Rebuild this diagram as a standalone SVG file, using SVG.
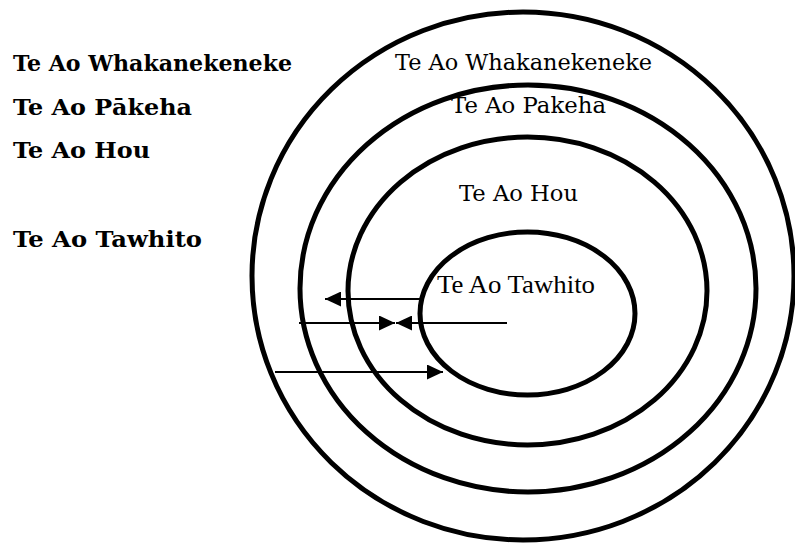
<svg xmlns="http://www.w3.org/2000/svg" width="795" height="543" viewBox="0 0 795 543">
<defs>
<style>
.ring{fill:none;stroke:#000;stroke-width:5}
.conn{stroke:#000;stroke-width:2;fill:none}
.side{font-family:"DejaVu Serif",serif;font-weight:bold;font-size:21.5px;fill:#000}
.lbl{font-family:"DejaVu Serif",serif;font-size:22px;fill:#000}
.lbl2{font-family:"Liberation Serif","Times New Roman",serif;font-size:26px;fill:#000}
</style>
<marker id="ah" markerUnits="userSpaceOnUse" markerWidth="16" markerHeight="15" refX="16" refY="7.5" orient="auto">
<path d="M0,0 L16,7.5 L0,15 z" fill="#000"/>
</marker>
</defs>
<rect width="795" height="543" fill="#fff"/>
<g id="legend">
<text class="side" x="13" y="71" textLength="279" lengthAdjust="spacingAndGlyphs">Te Ao Whakanekeneke</text>
<text class="side" x="13" y="115" textLength="179" lengthAdjust="spacingAndGlyphs">Te Ao Pākeha</text>
<text class="side" x="13" y="158" textLength="137" lengthAdjust="spacingAndGlyphs">Te Ao Hou</text>
<text class="side" x="13" y="247" textLength="189" lengthAdjust="spacingAndGlyphs">Te Ao Tawhito</text>
</g>
<g id="ring-whakanekeneke">
<ellipse class="ring" cx="523" cy="276" rx="271" ry="264"/>
<text class="lbl" x="395" y="70" textLength="257" lengthAdjust="spacingAndGlyphs">Te Ao Whakanekeneke</text>
</g>
<g id="ring-pakeha">
<ellipse class="ring" cx="528" cy="288.5" rx="228" ry="203.5"/>
<text class="lbl" x="451" y="113" textLength="155" lengthAdjust="spacingAndGlyphs">Te Ao Pakeha</text>
</g>
<g id="ring-hou">
<ellipse class="ring" cx="527.5" cy="291" rx="179.5" ry="154"/>
<text class="lbl" x="459" y="201" textLength="119" lengthAdjust="spacingAndGlyphs">Te Ao Hou</text>
</g>
<g id="ring-tawhito">
<ellipse class="ring" cx="527.5" cy="313.5" rx="107.5" ry="81.5"/>
<text class="lbl2" x="437" y="293" textLength="158" lengthAdjust="spacingAndGlyphs">Te Ao Tawhito</text>
</g>
<g id="connectors">
<line class="conn" x1="420" y1="299" x2="325" y2="299" marker-end="url(#ah)"/>
<line class="conn" x1="299" y1="323" x2="395" y2="323" marker-end="url(#ah)"/>
<line class="conn" x1="507" y1="323" x2="396" y2="323" marker-end="url(#ah)"/>
<line class="conn" x1="275" y1="372" x2="443" y2="372" marker-end="url(#ah)"/>
</g>
</svg>
